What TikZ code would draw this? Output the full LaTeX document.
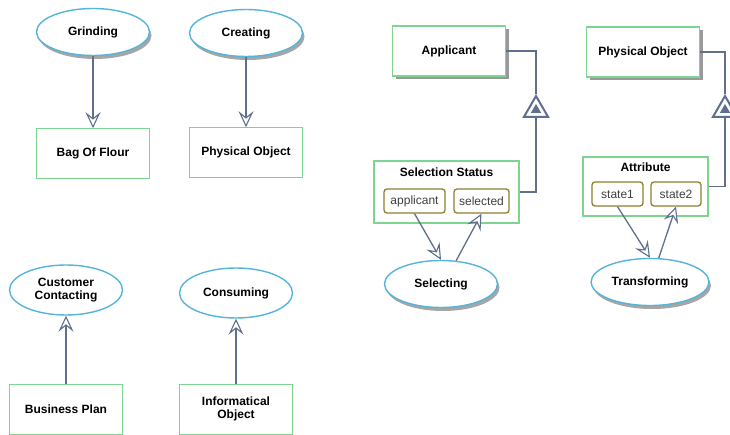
\documentclass[tikz,border=0pt]{standalone}
\usepackage{fontspec}
\setmainfont{Liberation Sans}
\usepackage{xcolor}
\usepackage{tikz}
\usetikzlibrary{shapes.geometric, arrows.meta, positioning, shadows}

\definecolor{procblue}{HTML}{55B4DA}
\definecolor{objgreen}{HTML}{7DD590}
\definecolor{stateolive}{HTML}{8C7F2E}
\definecolor{linkslate}{HTML}{5F6F8C}

\begin{document}
\begin{tikzpicture}[x=1pt, y=-1pt, node distance=70pt, >={Stealth[fill=white, length=16pt, width=15pt, inset=6pt, line width=1.1pt]},
    process/.style={draw=procblue, line width=1.4pt, ellipse, fill=white, minimum width=113pt, minimum height=47pt, align=center, font=\fontsize{12}{13}\selectfont\bfseries},
    procshadow/.style={drop shadow={shadow xshift=2pt, shadow yshift=-3.5pt, fill=gray!70, opacity=1}},
    object/.style={draw=objgreen, line width=1.2pt, rectangle, fill=white, minimum width=113pt, minimum height=50pt, align=center, font=\fontsize{12}{13}\selectfont\bfseries},
    objshadow/.style={drop shadow={shadow xshift=3pt, shadow yshift=-3pt, fill=gray!80, opacity=1}},
    state/.style={draw=stateolive, line width=1.3pt, rounded corners=3pt, fill=white, minimum height=24pt, inner sep=1pt, text=black!75, font=\fontsize{12}{13}\selectfont},
    link/.style={draw=linkslate, line width=1.3pt},
    chartri/.style={regular polygon, regular polygon sides=3, inner sep=0pt}]
    \useasboundingbox (0,0) rectangle (730,435);

    % result and consumption links
    \node [process, procshadow] (grind) at (93,32) {Grinding};
    \node [object, below=72pt of grind] (flour) {Bag Of Flour};
    \node [process, procshadow] (create) at (246,33) {Creating};
    \node [object, below=70pt of create] (physA) {Physical Object};

    \node [process, minimum height=50pt] (contact) at (66,290) {Customer\\Contacting};
    \node [object, below=68pt of contact] (plan) {Business Plan};
    \node [process, minimum height=50pt] (consume) at (236,293) {Consuming};
    \node [object, below=65pt of consume] (info) {Informatical\\Object};

    \draw [link, ->] (grind) -- (flour);
    \draw [link, ->] (create) -- (physA);
    \draw [link, ->] (plan) -- (contact);
    \draw [link, ->] (info) -- (consume);

    % Selecting
    \node [object, objshadow] (applicant) at (449,51) {Applicant};
    \node [object, minimum width=145pt, minimum height=62pt] (status) at (446.5,192) {};
    \node [font=\fontsize{12}{13}\selectfont\bfseries, below=6pt of status.north, inner sep=1pt] (statusT) {Selection Status};
    \node [state, minimum width=61pt] (stApplicant) at (414.5,201) {applicant};
    \node [state, minimum width=55pt] (stSelected) at (481.5,201) {selected};
    \node [process, procshadow] (select) at (441,284) {Selecting};
    \node [chartri, draw=linkslate, line width=2pt, fill=white, minimum size=28pt] (charA) at (536,110) {};
    \node [chartri, fill=linkslate, minimum size=12pt] (charAin) at (charA.center) {};

    \draw [link] (applicant.east) -| (charA.north);
    \draw [link] (charA.south) |- (status.east);
    \draw [link, ->] (stApplicant.south) -- (select.north);
    \draw [link, ->] (select.57) -- (stSelected.south);

    % Transforming
    \node [object, objshadow] (physB) at (643,52) {Physical Object};
    \node [object, minimum width=125pt, minimum height=59pt] (attr) at (645.5,186.5) {};
    \node [font=\fontsize{12}{13}\selectfont\bfseries, below=5pt of attr.north, inner sep=1pt] (attrT) {Attribute};
    \node [state, minimum width=51pt] (stOne) at (617.5,194) {state1};
    \node [state, minimum width=50pt] (stTwo) at (676,194) {state2};
    \node [process, procshadow, minimum width=115pt] (transform) at (650,282) {Transforming};
    \node [chartri, draw=linkslate, line width=2pt, fill=white, minimum size=28pt] (charB) at (725,110) {};
    \node [chartri, fill=linkslate, minimum size=12pt] (charBin) at (charB.center) {};

    \draw [link] (physB.east) -| (charB.north);
    \draw [link] (charB.south) |- (attr.east);
    \draw [link, ->] (stOne.south) -- (transform.north);
    \draw [link, ->] (transform.70) -- (stTwo.south);
\end{tikzpicture}
\end{document}
